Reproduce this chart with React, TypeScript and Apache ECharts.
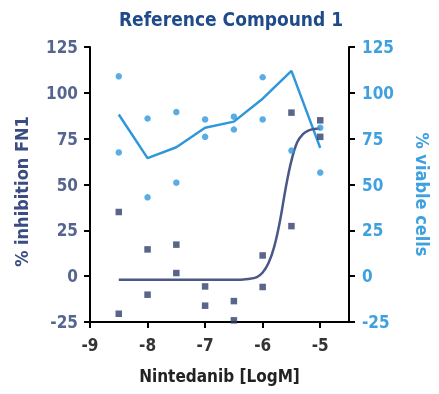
import React, { useEffect, useRef, useState } from "react";
import * as echarts from "echarts";

const FONT = "'DejaVu Sans Condensed', 'Liberation Sans Narrow', 'Roboto', sans-serif";

const titleText = "Reference Compound 1";
const xAxisTitle = "Nintedanib [LogM]";
const leftTitle = "% inhibition FN1";
const rightTitle = "% viable cells";

const xTicks = [-9, -8, -7, -6, -5];
const doses = [-8.5, -8, -7.5, -7, -6.5, -6, -5.5, -5];

// % viable cells (light blue) replicates and mean line
const viableRep1 = [109, 86, 89.5, 85.5, 87, 108.5, 68.5, 81];
const viableRep2 = [67.5, 43, 51, 76, 80, 85.5, null, 56.5];
const viableMean = [88.2, 64.4, 70.3, 81, 84.3, 96.8, 112, 70];

// % inhibition FN1 (dark) replicates
const inhibRep1 = [35, 14.6, 17.2, -5.6, -13.6, 11.3, 89.2, 85];
const inhibRep2 = [-20.5, -10.1, 1.7, -16.1, -24.1, -5.9, 27.3, 76];

// fitted curve
const fitX = [-8.5, -8, -7.5, -7, -6.5, -6.25, -6.1, -6, -5.9, -5.8, -5.7, -5.6, -5.5, -5.4, -5.3, -5.2, -5.1, -5];
const fitY = [-2, -2, -2, -2, -2, -1.5, -0.5, 2, 7, 16, 30, 48, 63, 73, 77.5, 79.5, 80.3, 80.5];

const DARK = "#2f3f6c";
const DARK_LINE = "#4a5888";
const LIGHT = "#2f98dc";
const LEFT_LABEL = "#55658f";
const RIGHT_LABEL = "#3fa0e0";
const AXIS = "#000000";

export default function App() {
  const ref = useRef<HTMLDivElement>(null);
  const [ready, setReady] = useState(0);
  useEffect(() => {
    if (!ref.current) return;
    const chart = echarts.init(ref.current, null, { renderer: "svg" });
    const pair = (xs: number[], ys: (number | null)[]) =>
      xs.map((x, i) => [x, ys[i]]).filter((p) => p[1] !== null);
    const yAxisCommon = {
      type: "value",
      min: -25,
      max: 125,
      interval: 25,
      splitLine: { show: false },
      axisLine: { show: true, onZero: false, lineStyle: { color: AXIS, width: 2 } },
      axisTick: { show: true, length: 6, lineStyle: { color: AXIS, width: 2 } },
    };
    chart.setOption({
      animation: false,
      textStyle: { fontFamily: FONT },
      title: {
        text: titleText,
        left: 226,
        top: 4,
        textAlign: "center",
        textStyle: { fontFamily: FONT, fontSize: 19, fontWeight: "bold", color: "#1f4b8a" },
      },
      grid: { left: 90, right: 74, top: 47, bottom: 72 },
      xAxis: {
        type: "value",
        min: -9,
        max: -4.5,
        interval: 1,
        splitLine: { show: false },
        axisLine: { show: true, onZero: false, lineStyle: { color: AXIS, width: 2 } },
        axisTick: { show: true, length: 6, customValues: xTicks, lineStyle: { color: AXIS, width: 2 } },
        axisLabel: { customValues: xTicks, margin: 14, fontFamily: FONT, fontSize: 17, fontWeight: "bold", color: "#333" },
        name: xAxisTitle,
        nameLocation: "middle",
        nameGap: 45,
        nameTextStyle: { fontFamily: FONT, fontSize: 17, fontWeight: "bold", color: "#222" },
      },
      yAxis: [
        {
          ...yAxisCommon,
          position: "left",
          axisLabel: { margin: 12, fontFamily: FONT, fontSize: 17, fontWeight: "bold", color: LEFT_LABEL },
          name: leftTitle,
          nameLocation: "middle",
          nameRotate: 90,
          nameGap: 60,
          nameTextStyle: { fontFamily: FONT, fontSize: 18, fontWeight: "bold", color: "#3a4c82", padding: [0, 14, 0, 0] },
        },
        {
          ...yAxisCommon,
          position: "right",
          axisLabel: { margin: 13, fontFamily: FONT, fontSize: 17, fontWeight: "bold", color: RIGHT_LABEL },
          name: rightTitle,
          nameLocation: "middle",
          nameRotate: -90,
          nameGap: 64,
          nameTextStyle: { fontFamily: FONT, fontSize: 18, fontWeight: "bold", color: RIGHT_LABEL, padding: [0, 0, 0, 20] },
        },
      ],
      series: [
        { name: "viable mean", type: "line", yAxisIndex: 1, data: pair(doses, viableMean), symbol: "none", lineStyle: { color: LIGHT, width: 2.5 }, z: 2 },
        { name: "viable", type: "scatter", yAxisIndex: 1, data: [...pair(doses, viableRep1), ...pair(doses, viableRep2)], symbol: "circle", symbolSize: 6.5, itemStyle: { color: LIGHT }, z: 3 },
        { name: "fit", type: "line", yAxisIndex: 0, data: pair(fitX, fitY), symbol: "none", smooth: 0.4, lineStyle: { color: DARK_LINE, width: 2.5 }, z: 2 },
        { name: "inhibition", type: "scatter", yAxisIndex: 0, data: [...pair(doses, inhibRep1), ...pair(doses, inhibRep2)], symbol: "rect", symbolSize: 6.5, itemStyle: { color: DARK }, z: 3 },
      ],
    });
    setReady((r) => r + 1);
    return () => chart.dispose();
  }, []);
  return (
    <div data-ready={ready}>
      <div ref={ref} style={{ position: "fixed", left: 0, top: 0, width: 439, height: 394 }} />
    </div>
  );
}
